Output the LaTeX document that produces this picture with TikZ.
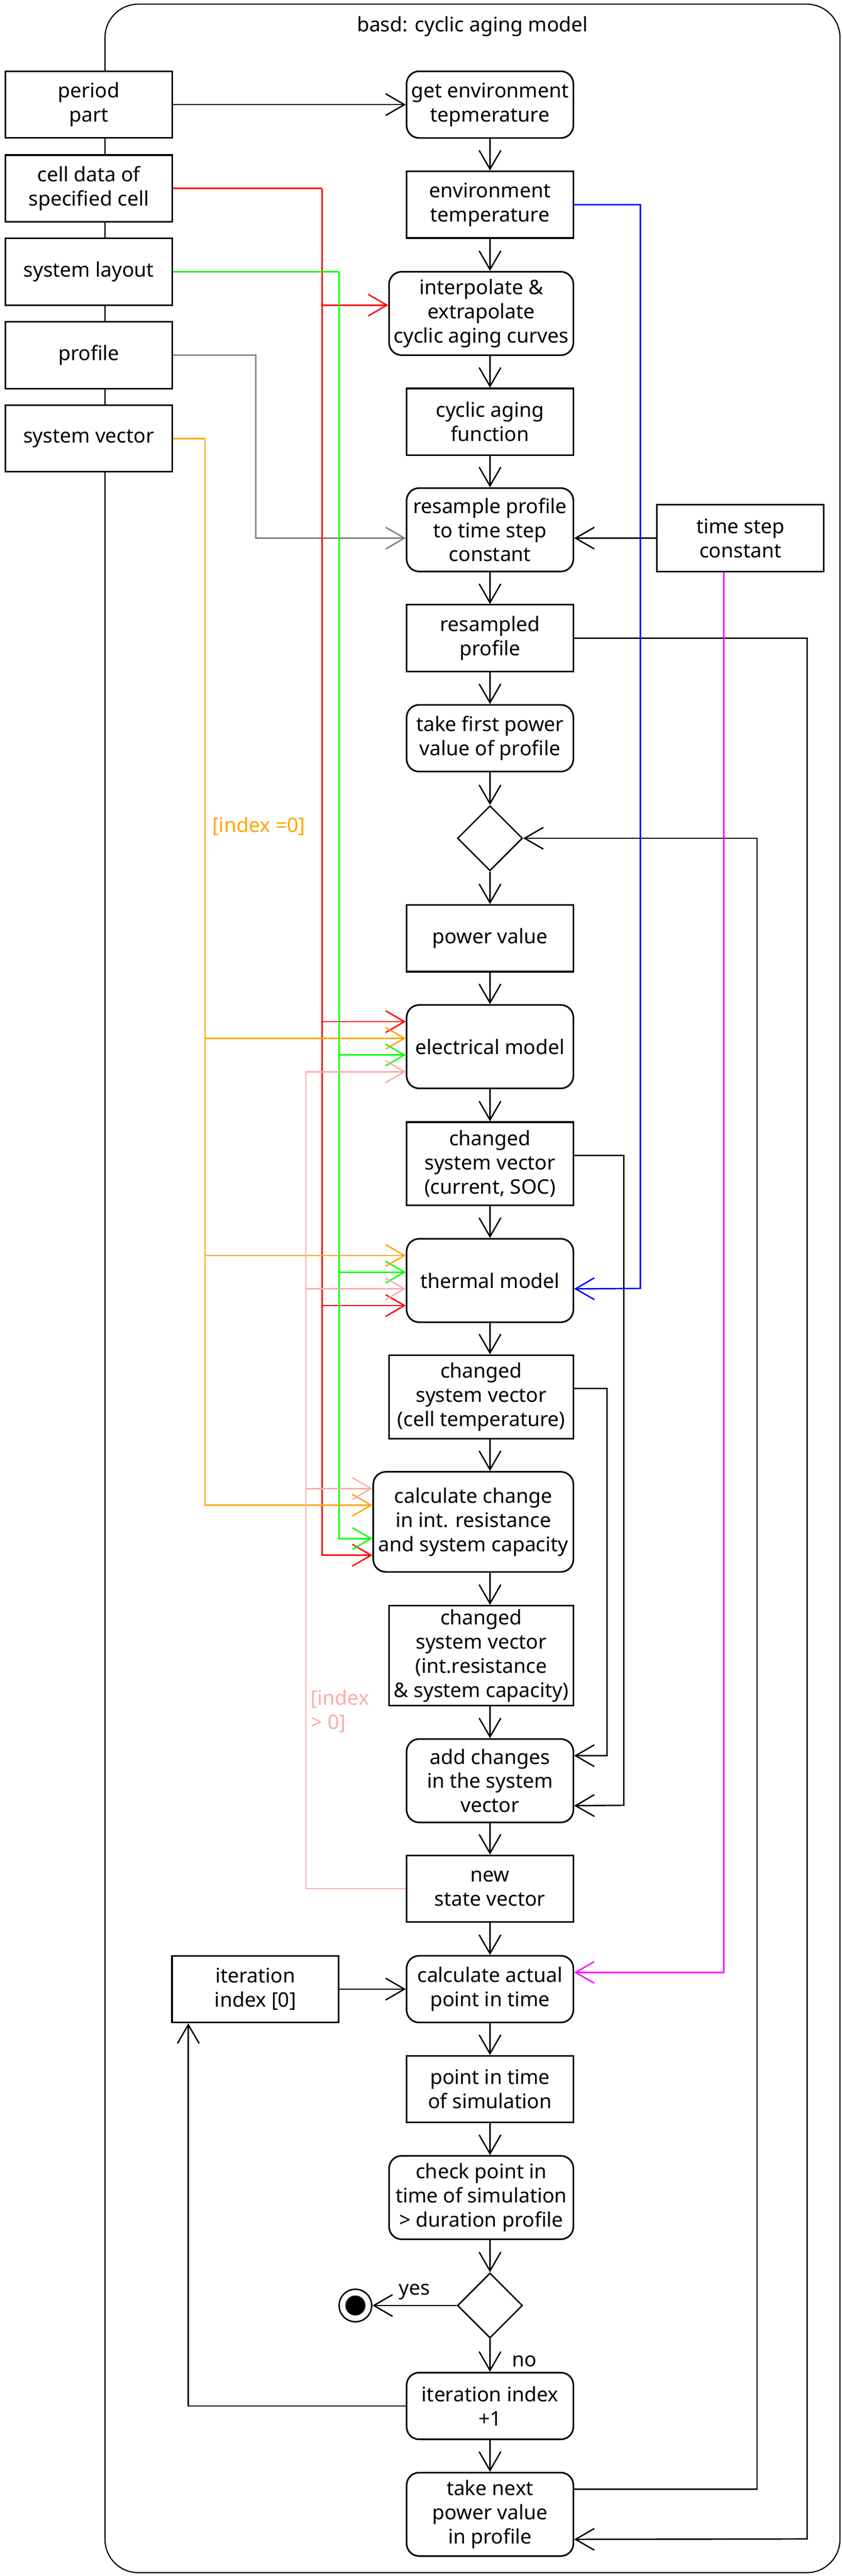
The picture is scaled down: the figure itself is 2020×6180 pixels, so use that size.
\documentclass[tikz,border=0pt]{standalone}
\usepackage{fontspec}
\setmainfont{Noto Sans}
\usepackage{tikz}
\usetikzlibrary{shapes.geometric, arrows.meta}
\usepackage{xcolor}
\definecolor{celldata}{RGB}{255,0,0}
\definecolor{layout}{RGB}{0,255,0}
\definecolor{sysvec}{RGB}{255,165,0}
\definecolor{newstate}{RGB}{255,170,170}
\definecolor{envtemp}{RGB}{0,0,255}
\definecolor{timestep}{RGB}{255,0,255}
\definecolor{profile}{RGB}{128,128,128}

\begin{document}
\begin{tikzpicture}[x=0.01cm, y=-0.01cm,
		every node/.style={font=\fontsize{13.7}{16.5}\selectfont},
		box/.style={draw, line width=1.1pt, fill=white, align=center, inner sep=0.05cm, minimum width=4cm, minimum height=1.6cm},
		act/.style={box, rounded corners=0.3cm},
		dec/.style={diamond, draw, line width=0.95pt, fill=white, inner sep=0pt, minimum width=1.56cm, minimum height=1.56cm},
		arr/.style={-{Straight Barb[length=4.5mm, width=5.2mm]}, line width=0.95pt},
		rarr/.style={{Straight Barb[length=4.5mm, width=5.2mm]}-, line width=0.95pt}]
			\useasboundingbox (0,0) rectangle (2020,6180);
			% frame
			\draw[line width=0.8pt, rounded corners=0.8cm] (252,10) rectangle (2016,6172);
			\node (title) at (1134,63) {basd: cyclic aging model};
			\coordinate (spine) at (1176,0);
			% inputs
			\node[box] (period) at (213,251) {period\\part};
			\node[box] (cell) at (213,452) {cell data of\\specified cell};
			\node[box] (layout) at (213,652) {system layout};
			\node[box] (prof) at (213,852) {profile};
			\node[box] (sysv) at (213,1052) {system vector};
			% main column
			\node[act] (getenv) at (1176,251) {get environment\\tepmerature};
			\node[box] (envt) at (1176,491) {environment\\temperature};
			\node[act, minimum width=4.42cm, minimum height=2cm] (interp) at (1155,752) {interpolate \&\\extrapolate\\cyclic aging curves};
			\node[box] (aging) at (1176,1012) {cyclic aging\\function};
			\node[act, minimum height=2cm] (resample) at (1176,1271) {resample profile\\to time step\\constant};
			\node[box] (tstep) at (1777,1291) {time step\\constant};
			\node[box] (resampled) at (1176,1531) {resampled\\profile};
			\node[act] (first) at (1176,1771) {take first power\\value of profile};
			\node[dec] (dec1) at (1176,2011) {};
			\node[box] (power) at (1176,2251) {power value};
			\node[act, minimum height=2cm] (elec) at (1176,2511) {electrical model};
			\node[box, minimum height=2cm] (sv1) at (1176,2792) {changed\\system vector\\(current, SOC)};
			\node[act, minimum height=2cm] (therm) at (1176,3072) {thermal model};
			\node[box, minimum width=4.42cm, minimum height=2cm] (sv2) at (1155,3351) {changed\\system vector\\(cell temperature)};
			\node[act, minimum width=4.8cm, minimum height=2.4cm] (calc) at (1136,3651) {calculate change\\in int. resistance\\and system capacity};
			\node[box, minimum width=4.42cm, minimum height=2.4cm] (sv3) at (1155,3972) {changed\\system vector\\(int.resistance\\\& system capacity)};
			\node[act, minimum height=2cm] (addchg) at (1176,4272) {add changes\\in the system\\vector};
			\node[box] (newsv) at (1176,4531) {new\\state vector};
			\node[act] (calctime) at (1176,4772) {calculate actual\\point in time};
			\node[box] (iter0) at (613,4772) {iteration\\index [0]};
			\node[box] (pit) at (1176,5012) {point in time\\of simulation};
			\node[act, minimum width=4.42cm, minimum height=2cm] (check) at (1155,5272) {check point in\\time of simulation\\> duration profile};
			\node[dec] (dec2) at (1176,5531) {};
			\node[circle, draw, line width=1pt, fill=white, inner sep=0pt, minimum size=0.78cm] (final) at (853,5531) {};
			\fill (final.center) circle[radius=0.24cm];
			\node[act] (iterinc) at (1176,5772) {iteration index\\+1};
			\node[act, minimum height=2cm] (next) at (1176,6032) {take next\\power value\\in profile};
			% control flow
			\foreach \a/\b in {getenv/envt, envt/interp, interp/aging, aging/resample, resample/resampled, resampled/first, first/dec1, dec1/power, power/elec, elec/sv1, sv1/therm, therm/sv2, sv2/calc, calc/sv3, sv3/addchg, addchg/newsv, newsv/calctime, calctime/pit, pit/check, check/dec2, iterinc/next}
				\draw[arr] (\a.south -| spine) -- (\b.north -| spine);
			\draw[arr] (period.east) -- (getenv.west);
			\draw[arr] (tstep.west) -- ([yshift=-0.2cm]resample.east);
			\draw[arr] (iter0.east) -- (calctime.west);
			\draw[arr] (dec2.west) -- (final.east) node[midway, above] {yes};
			\draw[arr] (dec2.south) -- (iterinc.north) node[pos=0.68, anchor=west, xshift=0.4cm] {no};
			\draw[arr] (iterinc.west) -| ([xshift=-1.61cm]iter0.south);
			\draw[arr] (resampled.east) -| (1937,6091) -- ([yshift=-0.6cm]next.east);
			\draw[arr] ([yshift=0.6cm]next.east) -| (1817,2011) -- (dec1.east);
			\draw[arr] ([yshift=0.2cm]sv1.east) -| (1497,4331) -- ([yshift=-0.6cm]addchg.east);
			\draw[arr] ([yshift=0.2cm]sv2.east) -| (1457,4212) -- ([yshift=0.6cm]addchg.east);
			% data inputs
			\draw[arr, profile] (prof.east) -| (614,1291) -- ([yshift=-0.2cm]resample.west);
			\draw[arr, envtemp] (envt.east) -| (1537,3091) -- ([yshift=-0.2cm]therm.east);
			\draw[arr, timestep] ([xshift=-0.4cm]tstep.south) |- ([yshift=0.4cm]calctime.east);
			\coordinate (redx) at (773,452);
			\draw[celldata, line width=0.95pt] (cell.east) -- (redx);
			\foreach \n/\dy in {interp/0.2, elec/0.6, therm/-0.6, calc/-0.8}
				\draw[rarr, celldata] ([yshift=\dy cm]\n.west) -| (redx);
			\coordinate (greenx) at (814,652);
			\draw[layout, line width=0.95pt] (layout.east) -- (greenx);
			\foreach \n/\dy in {elec/-0.2, therm/0.2, calc/-0.4}
				\draw[rarr, layout] ([yshift=\dy cm]\n.west) -| (greenx);
			\coordinate (orangex) at (492,1052);
			\draw[sysvec, line width=0.95pt] (sysv.east) -- (orangex);
			\foreach \n/\dy in {elec/0.2, therm/0.6, calc/0.4}
				\draw[rarr, sysvec] ([yshift=\dy cm]\n.west) -| (orangex);
			\node[sysvec, anchor=west] (idx0) at (497,1982) {[index =0]};
			\coordinate (pinkx) at (734,4531);
			\draw[newstate, line width=0.95pt] (newsv.west) -- (pinkx);
			\foreach \n/\dy in {elec/-0.6, therm/-0.2, calc/0.8}
				\draw[rarr, newstate] ([yshift=\dy cm]\n.west) -| (pinkx);
			\node[newstate, anchor=west, align=left] (idxn) at (734,4105) {[index\\> 0]};
		\end{tikzpicture}
\end{document}
